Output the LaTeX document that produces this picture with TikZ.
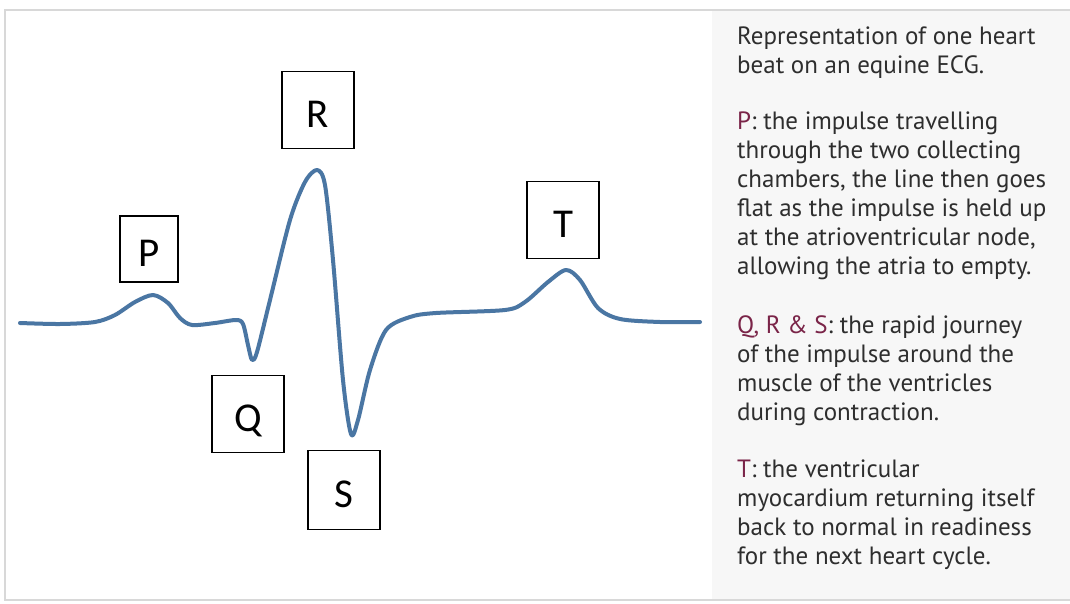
\documentclass[tikz,border=0pt]{standalone}
\usepackage{fontspec}
\setmainfont{PT Sans}
\newfontfamily\boxfont{Carlito}
\definecolor{ecgblue}{HTML}{4A76A3}
\definecolor{keyred}{HTML}{7A2448}
\definecolor{framegray}{HTML}{D8D8D8}
\definecolor{panelgray}{HTML}{F7F7F7}

\begin{document}
\begin{tikzpicture}[x=1pt,y=-1pt,wave/.style={ecgblue,line width=4pt,line cap=round,line join=round},
 lbl/.style={draw,line width=1.4pt,minimum width=72pt,minimum height=77pt,inner sep=0,text height=35pt,text depth=0pt,font=\boxfont\fontsize{41}{41}\selectfont},
 note/.style={anchor=base west,align=left,inner sep=0,text=black!82,font=\fontsize{25}{29}\selectfont}]
\useasboundingbox (0,0) rectangle (1070,604);
\fill[white] (0,0) rectangle (1070,604); \fill[panelgray] (712,10) rectangle (1070,600);
\draw[framegray,line width=1.2pt] (1070,10)--(5,10)--(5,600)--(1070,600);
% the beat
\draw[wave] plot[smooth,tension=0.5] coordinates {(20,323) (60,324) (95,322) (115,315) (135,302) (153,295) (168,303) (180,318) (192,325) (215,323) (236,320) (243,324) (248,345) (252,360) (257,352) (270,300) (290,220) (305,182) (317,170) (325,185) (333,260) (343,380) (351,434) (358,420) (370,370) (386,330) (410,317) (436,313) (505,310) (525,302) (548,282) (566,270) (580,280) (598,308) (620,319) (660,322) (700,322)};
\node[lbl,minimum width=58pt,minimum height=66pt] (pbox) at (149,249){P}; \node[lbl] (rbox) at (318,110){R};
\node[lbl] (qbox) at (248,414){Q}; \node[lbl,minimum height=79pt] (sbox) at (344,490){S}; \node[lbl] (tbox) at (563,220){T};
% key text
\node[note] (intro) at (737,74){Representation of one heart\\beat on an equine ECG.};
\node[note] (pnote) at (737,274){\textcolor{keyred}{P}: the impulse travelling\\through the two collecting\\chambers, the line then goes\\flat as the impulse is held up\\at the atrioventricular node,\\allowing the atria to empty.};
\node[note] (qrsnote) at (737,420){\textcolor{keyred}{Q, R \& S}: the rapid journey\\of the impulse around the\\muscle of the ventricles\\during contraction.};
\node[note] (tnote) at (737,564){\textcolor{keyred}{T}: the ventricular\\myocardium returning itself\\back to normal in readiness\\for the next heart cycle.};
\end{tikzpicture}
\end{document}
